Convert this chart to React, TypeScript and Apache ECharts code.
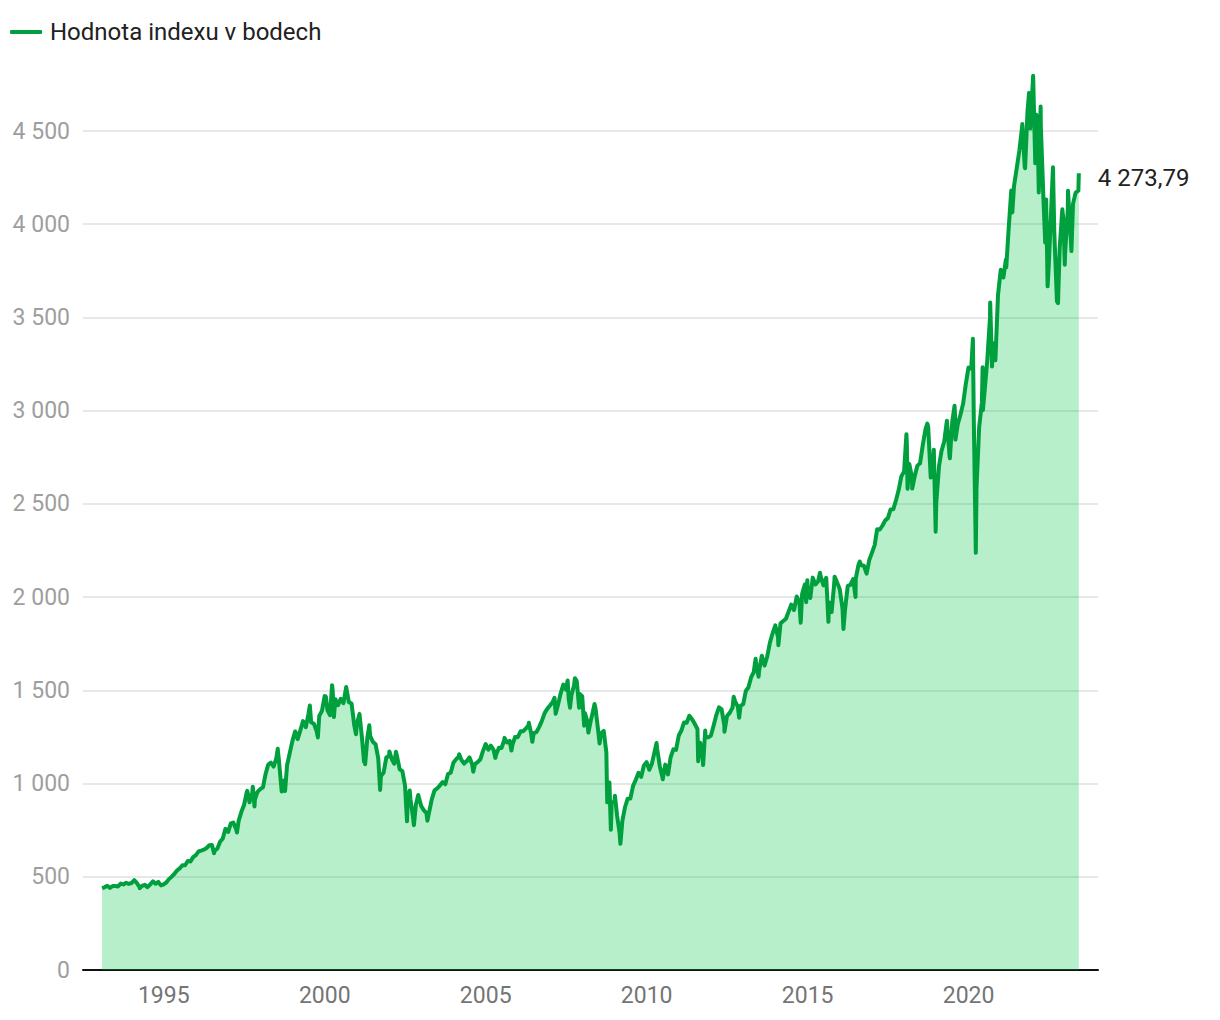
import React, { useEffect, useRef } from "react";
import * as echarts from "echarts";

const seriesName = "Hodnota indexu v bodech";
const firstYear = 1993;
// month-end closes, Jan 1993 .. May 2023
const monthlyCloses = [
  438.8, 443.4, 451.7, 440.2, 450.2, 450.5, 448.1, 463.6, 458.9, 467.8, 461.8, 466.5,
  481.6, 467.1, 445.8, 450.9, 456.5, 444.3, 458.3, 475.5, 462.7, 472.4, 453.7, 459.3,
  470.4, 487.4, 500.7, 514.7, 533.4, 544.8, 562.1, 561.9, 584.4, 581.5, 605.4, 615.9,
  636.0, 640.4, 645.5, 654.2, 669.1, 670.6, 640.0, 652.0, 687.3, 705.3, 757.0, 740.7,
  786.2, 790.8, 757.1, 801.3, 848.3, 885.1, 954.3, 899.5, 947.3, 914.6, 955.4, 970.4,
  980.3, 1049.3, 1101.8, 1111.8, 1090.8, 1133.8, 1120.7, 957.3, 1017.0, 1098.7, 1163.6, 1229.2,
  1279.6, 1238.3, 1286.4, 1335.2, 1301.8, 1372.7, 1328.7, 1320.4, 1282.7, 1362.9, 1388.9, 1469.3,
  1394.5, 1366.4, 1498.6, 1452.4, 1420.6, 1454.6, 1430.8, 1517.7, 1436.5, 1429.4, 1315.0, 1320.3,
  1366.0, 1239.9, 1160.3, 1249.5, 1255.8, 1224.4, 1211.2, 1133.6, 1040.9, 1059.8, 1139.5, 1148.1,
  1130.2, 1106.7, 1147.4, 1076.9, 1067.1, 989.8, 911.6, 916.1, 815.3, 885.8, 936.3, 879.8,
  855.7, 841.2, 848.2, 916.9, 963.6, 974.5, 990.3, 1008.0, 996.0, 1050.7, 1058.2, 1111.9,
  1131.1, 1144.9, 1126.2, 1107.3, 1120.7, 1140.8, 1101.7, 1104.2, 1114.6, 1130.2, 1173.8, 1211.9,
  1181.3, 1203.6, 1180.6, 1156.9, 1191.5, 1191.3, 1234.2, 1220.3, 1228.8, 1207.0, 1249.5, 1248.3,
  1280.1, 1280.7, 1294.8, 1310.6, 1270.1, 1270.2, 1276.7, 1303.8, 1335.9, 1377.9, 1400.6, 1418.3,
  1438.2, 1406.8, 1420.9, 1482.4, 1530.6, 1503.4, 1455.3, 1474.0, 1526.8, 1549.4, 1481.1, 1468.4,
  1378.6, 1330.6, 1322.7, 1385.6, 1400.4, 1280.0, 1267.4, 1282.8, 1166.4, 968.8, 896.2, 903.3,
  825.9, 735.1, 797.9, 872.8, 919.1, 919.3, 987.5, 1020.6, 1057.1, 1036.2, 1095.6, 1115.1,
  1073.9, 1104.5, 1169.4, 1186.7, 1089.4, 1030.7, 1101.6, 1049.3, 1141.2, 1183.3, 1180.6, 1257.6,
  1286.1, 1327.2, 1325.8, 1363.6, 1345.2, 1320.6, 1292.3, 1218.9, 1131.4, 1253.3, 1247.0, 1257.6,
  1312.4, 1365.7, 1408.5, 1397.9, 1310.3, 1362.2, 1379.3, 1406.6, 1440.7, 1412.2, 1416.2, 1426.2,
  1498.1, 1514.7, 1569.2, 1597.6, 1630.7, 1606.3, 1685.7, 1633.0, 1681.6, 1756.5, 1805.8, 1848.4,
  1782.6, 1859.5, 1872.3, 1884.0, 1923.6, 1960.2, 1930.7, 2003.4, 1972.3, 2018.1, 2067.6, 2058.9,
  1995.0, 2104.5, 2067.9, 2085.5, 2107.4, 2063.1, 2103.8, 1972.2, 1920.0, 2079.4, 2080.4, 2043.9,
  1940.2, 1932.2, 2059.7, 2065.3, 2097.0, 2098.9, 2173.6, 2171.0, 2168.3, 2126.2, 2198.8, 2238.8,
  2278.9, 2363.6, 2362.7, 2384.2, 2411.8, 2423.4, 2470.3, 2471.7, 2519.4, 2575.3, 2647.6, 2673.6,
  2823.8, 2713.8, 2640.9, 2648.1, 2705.3, 2718.4, 2816.3, 2901.5, 2914.0, 2711.7, 2760.2, 2506.9,
  2704.1, 2784.5, 2834.4, 2945.8, 2752.1, 2941.8, 2980.4, 2926.5, 2976.7, 3037.6, 3141.0, 3230.8,
  3225.5, 2954.2, 2584.6, 2912.4, 3044.3, 3100.3, 3271.1, 3500.3, 3363.0, 3270.0, 3621.6, 3756.1,
  3714.2, 3811.2, 3972.9, 4181.2, 4204.1, 4297.5, 4395.3, 4522.7, 4307.5, 4605.4, 4567.0, 4766.2,
  4515.6, 4373.9, 4530.4, 4131.9, 4132.2, 3785.4, 4130.3, 3955.0, 3585.6, 3872.0, 4080.1, 3839.5,
  4076.6, 3970.2, 4109.3, 4169.5, 4179.8,
];
// intra-month highs and lows
const extraDates = [
  "1994-02-02", "1994-04-04", "1996-07-24", "1997-04-11", "1997-08-06", "1997-10-07", "1997-10-27",
  "1998-07-17", "1998-10-08", "1999-07-16", "1999-10-15", "2000-01-14", "2000-03-24", "2000-04-14",
  "2000-09-01", "2000-12-20", "2001-01-30", "2001-03-22", "2001-04-04", "2001-05-21", "2001-09-21",
  "2002-01-04", "2002-03-19", "2002-07-23", "2002-08-22", "2002-10-09", "2002-11-27", "2003-03-11",
  "2004-03-05", "2004-08-12", "2005-04-20", "2005-08-02", "2005-10-20", "2006-05-05", "2006-06-13",
  "2007-02-20", "2007-03-05", "2007-07-19", "2007-08-15", "2007-10-09", "2007-11-26", "2008-01-22",
  "2008-03-10", "2008-05-19", "2008-07-15", "2008-10-10", "2008-11-04", "2008-11-20", "2009-01-06",
  "2009-03-09", "2010-04-23", "2010-07-02", "2011-08-08", "2011-10-03", "2011-10-27", "2012-06-01",
  "2012-09-14", "2012-11-15", "2013-05-21", "2013-06-24", "2014-02-03", "2014-10-15", "2014-12-16",
  "2014-12-29", "2015-05-21", "2015-08-25", "2015-11-03", "2016-02-11", "2016-06-27", "2016-08-15",
  "2018-01-26", "2018-02-08", "2018-04-02", "2018-09-20", "2018-10-29", "2018-12-03", "2018-12-24",
  "2019-05-03", "2019-06-03", "2019-07-26", "2019-08-05", "2020-02-19", "2020-03-23", "2020-06-08",
  "2020-06-11", "2020-09-02", "2020-09-23", "2021-03-04", "2021-05-12", "2021-09-02", "2021-10-04",
  "2021-11-18", "2021-12-01", "2022-01-03", "2022-01-27", "2022-02-09", "2022-03-08", "2022-03-29",
  "2022-05-20", "2022-06-16", "2022-08-16", "2022-10-12", "2022-12-13", "2022-12-28", "2023-02-02",
  "2023-03-13", "2023-06-05",
];
const extraValues = [
  482.0, 438.9, 626.7, 737.7, 960.3, 983.1, 877.0,
  1186.8, 959.4, 1418.8, 1247.4, 1465.2, 1527.5, 1356.6,
  1520.8, 1264.7, 1373.7, 1117.6, 1103.3, 1312.8, 965.8,
  1172.5, 1170.3, 797.7, 962.7, 776.8, 938.9, 800.7,
  1156.9, 1063.2, 1137.5, 1245.0, 1176.8, 1325.8, 1223.7,
  1459.7, 1374.1, 1553.1, 1406.7, 1565.2, 1407.2, 1310.5,
  1273.4, 1426.6, 1214.9, 899.2, 1005.8, 752.4, 934.7,
  676.5, 1217.3, 1022.6, 1119.5, 1099.2, 1284.6, 1278.0,
  1465.8, 1353.3, 1669.2, 1573.1, 1741.9, 1862.5, 1972.7,
  2090.6, 2130.8, 1867.6, 2109.8, 1829.1, 2000.5, 2190.2,
  2872.9, 2581.0, 2581.9, 2930.8, 2641.3, 2790.4, 2351.1,
  2945.6, 2744.5, 3025.9, 2844.7, 3386.2, 2237.4, 3232.4,
  3002.1, 3580.8, 3236.9, 3768.5, 4063.0, 4537.0, 4300.5,
  4704.5, 4513.0, 4796.6, 4326.5, 4587.2, 4170.7, 4631.6,
  3901.4, 3666.8, 4305.2, 3577.0, 4019.7, 3783.2, 4179.8,
  3855.8, 4273.79,
];
const yTickValues = [0, 500, 1000, 1500, 2000, 2500, 3000, 3500, 4000, 4500];
const xTickYears = [1995, 2000, 2005, 2010, 2015, 2020];

const YEAR_MS = 365.25 * 86400000;
function fracYear(y: number, m: number, d: number) {
  return y + (Date.UTC(y, m, d) - Date.UTC(y, 0, 1)) / YEAR_MS;
}
function fmtThousands(v: number) {
  const s = String(Math.round(v));
  return s.replace(/\B(?=(\d{3})+(?!\d))/g, " ");
}
function fmtDecimal(v: number) {
  const [i, f] = v.toFixed(2).split(".");
  return fmtThousands(Number(i)) + "," + f;
}

function buildData() {
  const pts: [number, number][] = [];
  monthlyCloses.forEach((v, i) => {
    const y = firstYear + Math.floor(i / 12);
    const m = i % 12;
    const lastDay = new Date(Date.UTC(y, m + 1, 0)).getUTCDate();
    pts.push([fracYear(y, m, lastDay), v]);
  });
  extraDates.forEach((ds, i) => {
    const [y, m, d] = ds.split("-").map(Number);
    pts.push([fracYear(y, m - 1, d), extraValues[i]]);
  });
  pts.sort((a, b) => a[0] - b[0]);
  return pts;
}

export default function App() {
  const ref = useRef<HTMLDivElement>(null);
  useEffect(() => {
    if (!ref.current) return;
    const chart = echarts.init(ref.current, undefined, { renderer: "svg" });
    const data = buildData();
    chart.setOption({
      animation: false,
      textStyle: { fontFamily: "Roboto" },
      legend: {
        show: true,
        left: 10,
        top: 20,
        padding: 0,
        icon: "roundRect",
        itemWidth: 32,
        itemHeight: 4,
        itemGap: 8,
        textStyle: { fontSize: 24, color: "#212121", fontFamily: "Roboto", padding: [0, 0, 0, 3] },
        data: [seriesName],
      },
      grid: { left: 83, right: 122, top: 131, bottom: 50, containLabel: false },
      xAxis: {
        type: "value",
        min: 1992.49,
        max: 2024.02,
        splitLine: { show: false },
        axisTick: { show: false },
        axisLine: { show: true, lineStyle: { color: "#111", width: 2 } },
        axisLabel: {
          customValues: xTickYears,
          color: "#757575",
          fontSize: 23,
          margin: 14,
          fontFamily: "Roboto",
          formatter: (v: number) => String(Math.round(v)),
        },
      },
      yAxis: {
        type: "value",
        min: 0,
        max: 4500,
        interval: 500,
        axisLine: { show: false },
        axisTick: { show: false },
        splitLine: { show: true, lineStyle: { color: "#e0e0e0", width: 1.5 } },
        axisLabel: {
          customValues: yTickValues,
          color: "#9e9e9e",
          fontSize: 23,
          margin: 13,
          fontFamily: "Roboto",
          formatter: (v: number) => fmtThousands(v),
        },
      },
      series: [
        {
          name: seriesName,
          type: "line",
          data,
          clip: false,
          showSymbol: false,
          symbol: "none",
          lineStyle: { color: "#00a03e", width: 4, join: "round" },
          itemStyle: { color: "#00a03e" },
          areaStyle: { color: "rgba(0,198,68,0.28)", opacity: 1, origin: "start" },
          endLabel: {
            show: true,
            distance: 19,
            offset: [0, 5],
            fontSize: 24,
            color: "#212121",
            fontFamily: "Roboto",
            formatter: (p: any) => fmtDecimal(p.value[1]),
          },
        },
      ],
    });
    return () => chart.dispose();
  }, []);
  return (
    <div
      ref={ref}
      style={{ position: "fixed", left: 0, top: 0, width: 1220, height: 1020, background: "#fff" }}
    />
  );
}
